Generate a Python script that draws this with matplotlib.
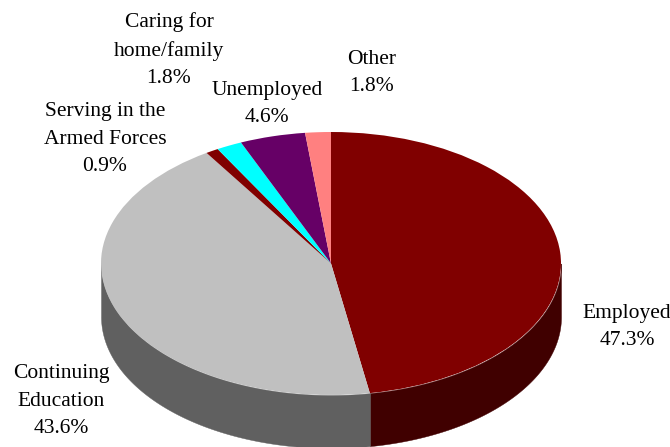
import numpy as np
import matplotlib
matplotlib.use('Agg')
import matplotlib.pyplot as plt

categories = ['Employed', 'Continuing\nEducation', 'Serving in the\nArmed Forces',
              'Caring for\nhome/family', 'Unemployed', 'Other']
values = [47.3, 43.6, 0.9, 1.8, 4.6, 1.8]
top_colors = ['#800000', '#c0c0c0', '#800000', '#00ffff', '#660066', '#ff8080']
side_colors = ['#400000', '#606060', '#400000', '#008080', '#330033', '#804040']

# label centres in pixels, same order as categories
label_pos = [(627, 327), (61, 401), (105, 139), (169, 50), (267, 104), (372, 73)]

W, H = 670, 447
cx, cy = 331, 263.5
rx, ry = 230, 131.5
depth = 53 / ry

plt.rcParams['font.family'] = ['Liberation Serif', 'DejaVu Serif']

fig = plt.figure(figsize=(W / 100, H / 100), dpi=100)
ax = fig.add_axes([0, 0, 1, 1])

# Side wall, clockwise from 12 o'clock
edges = np.concatenate([[0], np.cumsum(values)]) / np.sum(values) * 2 * np.pi
for i in range(len(values)):
    lo = max(edges[i], np.pi / 2)
    hi = min(edges[i + 1], 3 * np.pi / 2)
    if hi <= lo:
        continue
    t = np.linspace(lo, hi, 200)
    x = np.sin(t)
    y = np.cos(t)
    ax.fill_between(x, y, y - depth, color=side_colors[i], lw=0.3)

ax.pie(values, colors=top_colors, startangle=90, counterclock=False, radius=1,
       wedgeprops={'linewidth': 0})

# pie forces equal aspect, the tilt comes from stretching the axes
ax.set_aspect('auto')
ax.set_xlim(-cx / rx, (W - cx) / rx)
ax.set_ylim(-(H - cy) / ry, cy / ry)
ax.axis('off')

for name, val, (px, py) in zip(categories, values, label_pos):
    fig.text(px / W, 1 - py / H, '%s\n%.1f%%' % (name, val), ha='center', va='center',
             fontsize=15.5, color='black', linespacing=1.59)

fig.savefig('out.png', dpi=100, facecolor='white')
